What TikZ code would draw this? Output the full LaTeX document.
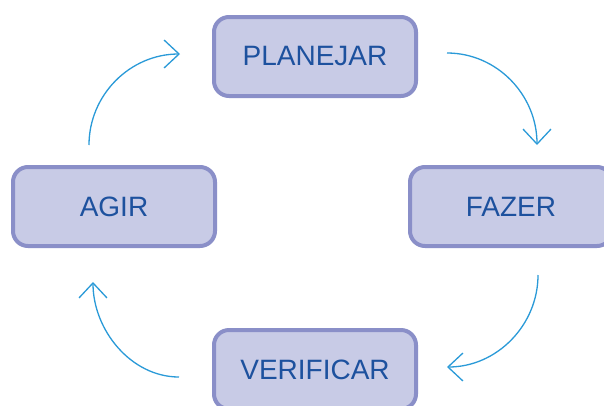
\documentclass[tikz,border=0pt]{standalone}
\usepackage{fontspec}
\setmainfont{Liberation Sans}
\usetikzlibrary{arrows.meta}
\definecolor{boxfill}{HTML}{C8CBE6}
\definecolor{boxline}{HTML}{8A8FC8}
\definecolor{txtblue}{HTML}{1D519E}
\definecolor{arrblue}{HTML}{2A9AD8}
\tikzset{
  stagebox/.style={draw=boxline, fill=boxfill, line width=4pt, rounded corners=15pt,
    minimum width=202pt, minimum height=79pt, inner sep=0pt,
    text=txtblue, font=\fontsize{28}{30}\selectfont},
  cyclearrow/.style={draw=arrblue, line width=1.3pt,
    -{Straight Barb[length=15pt,width=28pt,line width=1.3pt]}}
}
\begin{document}
\begin{tikzpicture}[x=1pt,y=-1pt]
\clip (0,0) rectangle (604,405);
\fill[white] (0,0) rectangle (604,405);
\node[stagebox] (plan) at (315,56.5) {PLANEJAR};
\node[stagebox] (fazer) at (511,206.5) {FAZER};
\node[stagebox] (agir) at (114,206.5) {AGIR};
\node[stagebox] (verif) at (315,369.5) {VERIFICAR};
\coordinate (a1s) at (447,53);
\coordinate (a1e) at (537,145);
\coordinate (a2s) at (538,275);
\coordinate (a2e) at (447,367);
\coordinate (a3s) at (179,377);
\coordinate (a3e) at (93,282);
\coordinate (a4s) at (89,145);
\coordinate (a4e) at (180,54);
\draw[cyclearrow] (a1s) .. controls (497,53) and (537,95) .. (a1e);
\draw[cyclearrow] (a2s) .. controls (538,325) and (497,367) .. (a2e);
\draw[cyclearrow] (a3s) .. controls (131,377) and (93,330) .. (a3e);
\draw[cyclearrow] (a4s) .. controls (89,95) and (130,54) .. (a4e);
\end{tikzpicture}
\end{document}
